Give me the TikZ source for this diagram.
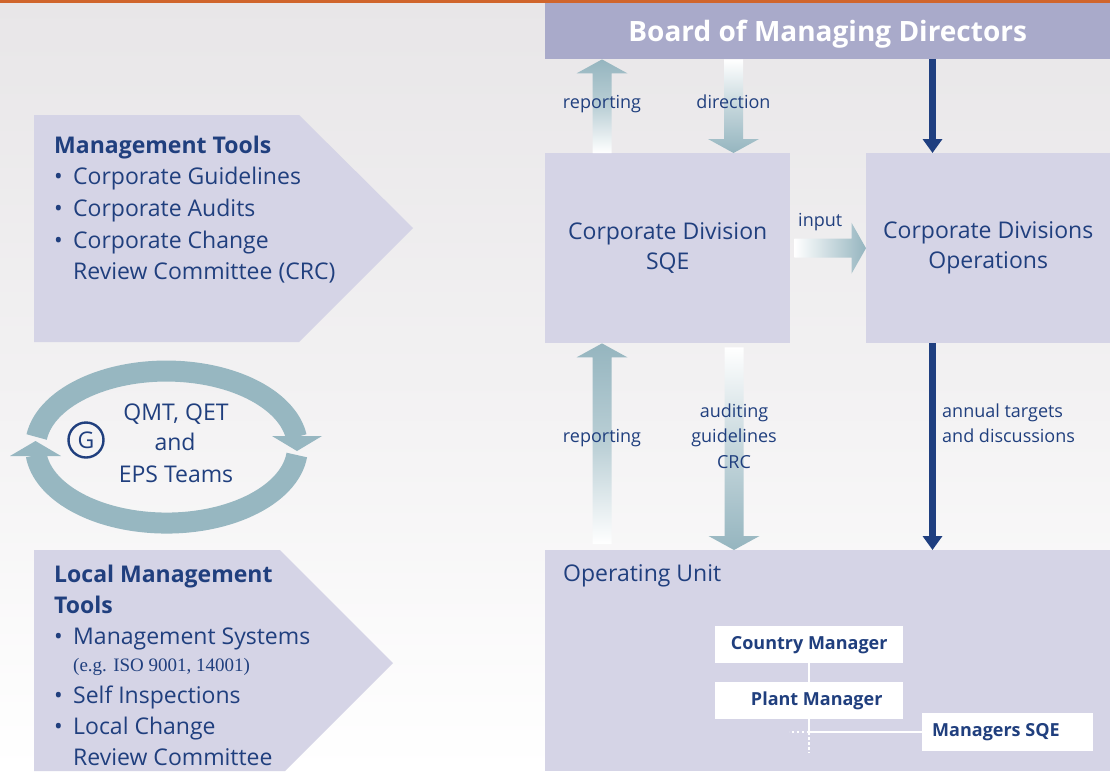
\documentclass[tikz,border=0pt]{standalone}
\usepackage{fontspec}
\setmainfont{Open Sans}
\newfontfamily\notefont{Liberation Serif}
\usetikzlibrary{calc,arrows.meta}

\definecolor{navy}{HTML}{203F7E}
\definecolor{lav}{HTML}{D5D4E6}
\definecolor{lavdark}{HTML}{A9AACA}
\definecolor{ateal}{HTML}{95B5BF}
\definecolor{ringc}{HTML}{97B7C1}
\definecolor{darr}{HTML}{1F3F80}
\definecolor{rust}{HTML}{D0652C}
\definecolor{bggray}{HTML}{E8E6E8}

\newcommand\fsz[2]{\fontsize{#1}{#2}\selectfont}

% broad shaded arrows: #1 fill options, #2 tail point, #3 tip point
\newcommand\fatup[3]{\path[#1] let \p1=(#2), \p2=(#3) in
  (\x2-9.5pt,\y1) -- (\x2-9.5pt,\y2-14pt) -- (\x2-25.5pt,\y2-14pt) -- (\x2,\y2)
  -- (\x2+25.5pt,\y2-14pt) -- (\x2+9.5pt,\y2-14pt) -- (\x2+9.5pt,\y1) -- cycle;}
\newcommand\fatdown[3]{\path[#1] let \p1=(#2), \p2=(#3) in
  (\x2-9.5pt,\y1) -- (\x2-9.5pt,\y2+14pt) -- (\x2-25.5pt,\y2+14pt) -- (\x2,\y2)
  -- (\x2+25.5pt,\y2+14pt) -- (\x2+9.5pt,\y2+14pt) -- (\x2+9.5pt,\y1) -- cycle;}
\newcommand\fatright[3]{\path[#1] let \p1=(#2), \p2=(#3) in
  (\x1,\y2-9.5pt) -- (\x2-14.5pt,\y2-9.5pt) -- (\x2-14.5pt,\y2-25.5pt) -- (\x2,\y2)
  -- (\x2-14.5pt,\y2+25.5pt) -- (\x2-14.5pt,\y2+9.5pt) -- (\x1,\y2+9.5pt) -- cycle;}

\tikzset{
  panel/.style={fill=lav, anchor=north west, inner sep=0pt, text=navy,
    align=center, font=\fsz{23}{30}},
  whitebox/.style={fill=white, anchor=north west, inner sep=0pt, text=navy,
    minimum width=188pt, minimum height=37pt, font=\bfseries\fsz{18}{22}},
  body/.style={anchor=base west, inner sep=0pt, text=navy, font=\fsz{23}{31}},
  headline/.style={body, font=\bfseries\fsz{23}{31}},
  lbl/.style={anchor=base, inner sep=0pt, text=navy, font=\fsz{18}{26}},
  lblw/.style={lbl, anchor=base west},
  darkarrow/.style={draw=darr, line width=7pt, -{Triangle[length=14pt,width=19pt]}},
  link/.style={draw=white, line width=2.5pt},
  dotlink/.style={link, dash pattern=on 2.5pt off 2.5pt},
  loop/.style={draw=ringc, line width=21pt},
  toolshape/.style={fill=lav},
  upfade/.style={top color=ateal, bottom color=white, middle color=ateal!65!white},
  downfade/.style={top color=white, bottom color=ateal, middle color=ateal!55!white},
  rightfade/.style={left color=white, right color=ateal},
}

\begin{document}
\begin{tikzpicture}[x=1pt,y=-1pt]
\useasboundingbox (0,0) rectangle (1110,771);

% paper background and top rule
\shade[top color=bggray, bottom color=white, middle color=bggray!55!white]
  (0,0) rectangle (1110,771);
\fill[rust] (0,0) rectangle (1110,3);

% organisational boxes
\node[panel, fill=lavdark, minimum width=565pt, minimum height=56pt, text=white,
  text height=20pt, text depth=0pt,
  font=\bfseries\fsz{28}{32}] (board) at (545,3) {Board of Managing Directors};
\node[panel, minimum width=245pt, minimum height=190pt] (sqe) at (545,153)
  {Corporate Division\\SQE};
\node[panel, minimum width=244pt, minimum height=190pt] (ops) at (866,153)
  {Corporate Divisions\\Operations};
\node[panel, minimum width=565pt, minimum height=221pt] (unit) at (545,550) {};
\node[body] (unitlabel) at (563,581) {Operating Unit};

% hierarchy inside the operating unit
\node[whitebox] (country) at (715,626) {Country Manager};
\node[whitebox] (plant) at (715,682) {\hspace*{15pt}Plant Manager};
\node[whitebox, minimum width=171pt, minimum height=38pt] (msqe) at (922,713)
  {\makebox[151pt][l]{Managers SQE}};
\coordinate (junction) at (plant.south |- msqe.west);
\draw[link] (country.south) -- (plant.north);
\draw[link] (plant.south) -- (junction) -- (msqe.west);
\draw[dotlink] (junction) -- ++(-20,0);
\draw[dotlink] (junction) -- ++(0,21);

% reporting / direction between board and SQE
\fatup{upfade}{$(sqe.north west)+(57,0)$}{$(board.south west)+(57,0)$}
\fatdown{downfade}{$(board.south west)+(188.5,0)$}{$(sqe.north west)+(188.5,0)$}
\node[lbl] (rep1) at (602,108) {reporting};
\node[lbl] (dir1) at (733.5,108) {direction};

% input from SQE to operations
\fatright{rightfade}{$(sqe.east)+(4,0)$}{ops.west}
\node[lblw] (inp) at (798,226) {input};

% board to operations, operations to operating unit
\coordinate (dk) at ($(ops.north west)+(66.5,0)$);
\draw[darkarrow] (dk |- board.south) -- (dk);
\draw[darkarrow] (dk |- ops.south) -- (dk |- unit.north);

% reporting / auditing between SQE and operating unit
\fatup{upfade}{$(unit.north west)+(57,-6)$}{$(sqe.south west)+(57,0)$}
\fatdown{downfade}{$(sqe.south west)+(189,4)$}{$(unit.north west)+(189,0)$}
\node[lbl] (rep2) at (602,442) {reporting};
\node[lbl] (aud1) at (734,417) {auditing};
\node[lbl] (aud2) at (734,442) {guidelines};
\node[lbl] (aud3) at (734,468) {CRC};
\node[lblw] (ann1) at (942,417) {annual targets};
\node[lblw] (ann2) at (942,442) {and discussions};

% corporate management tools
\fill[toolshape] (34,115) -- (299,115) -- (413,228) -- (299,342) -- (34,342) -- cycle;
\node[headline] (mt0) at (54,153) {Management Tools};
\node[body] (mt1) at (54,184) {\makebox[19pt][l]{•}Corporate Guidelines};
\node[body] (mt2) at (54,216) {\makebox[19pt][l]{•}Corporate Audits};
\node[body] (mt3) at (54,248) {\makebox[19pt][l]{•}Corporate Change};
\node[body] (mt4) at (73,279) {Review Committee (CRC)};

% team loop
\draw[loop] (36.65,437) arc[start angle=172.4, end angle=7.6, x radius=131pt, y radius=76pt];
\draw[loop] (296.8,455) arc[start angle=-6, end angle=-174, x radius=131pt, y radius=76pt];
\fill[ringc] (10,456) -- (61,456) -- (35.5,441) -- cycle;
\fill[ringc] (272,436) -- (322,436) -- (297,451) -- cycle;
\node[draw=navy, line width=2.4pt, circle, minimum size=35pt, inner sep=0pt,
  text=navy, font=\fsz{23}{23}] (g) at (86,440) {G};
\node[lbl, font=\fsz{23}{31}] (team1) at (176,420) {QMT, QET};
\node[lbl, font=\fsz{23}{31}] (team2) at (175,450) {and};
\node[lbl, font=\fsz{23}{31}] (team3) at (176,482) {EPS Teams};

% local management tools
\fill[toolshape] (34,550) -- (280,550) -- (393,663) -- (285,771) -- (34,771) -- cycle;
\node[headline] (lt0) at (54,582) {Local Management};
\node[headline] (lt1) at (54,613) {Tools};
\node[body] (lt2) at (54,644) {\makebox[19pt][l]{•}Management Systems};
\node[body, font=\notefont\fsz{19}{22}] (lt3) at (73,671) {(e.g. ISO 9001, 14001)};
\node[body] (lt4) at (54,703) {\makebox[19pt][l]{•}Self Inspections};
\node[body] (lt5) at (54,734) {\makebox[19pt][l]{•}Local Change};
\node[body] (lt6) at (73,765) {Review Committee};
\end{tikzpicture}
\end{document}
